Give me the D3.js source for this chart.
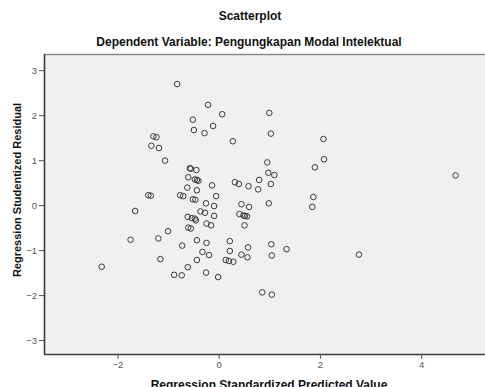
<!DOCTYPE html>
<html>
<head>
<meta charset="utf-8">
<script src="https://cdn.jsdelivr.net/npm/d3@7"></script>
<style>
  html, body { margin: 0; padding: 0; background: #ffffff; }
  svg { display: block; }
</style>
</head>
<body>
<div id="chart"></div>
<script>
// ---- data ----
const title = "Scatterplot";
const subtitle = "Dependent Variable: Pengungkapan Modal Intelektual";
const xLabel = "Regression Standardized Predicted Value";
const yLabel = "Regression Studentized Residual";
const xTicks = [-2, 0, 2, 4];
const yTicks = [-3, -2, -1, 0, 1, 2, 3];

const predicted = [
  -0.82, -0.51, -0.49, -1.29, -1.23, -1.33, -1.18, -1.06, -0.57, -0.55,
  -0.44, -0.60, -0.47, -0.43, -0.40, -0.62, -0.43, -1.39, -1.34, -0.76,
  -0.70, -0.51, -0.46, -1.65, -0.61, -0.53, -0.47, -0.45, -0.36, -0.21,
   0.07, -0.28, -0.11,  0.28,  1.00,  1.03,  0.96,  0.98,  1.10,  1.03,
   0.80,  0.78,  0.59,  0.32,  0.40, -0.13, -0.05, -0.25, -0.09, -0.27,
  -0.09,  0.45,  0.60,  0.41,  0.49,  0.52,  0.56,  0.99,  1.90,  1.87,
   1.85,  2.07,  2.08,  2.77,  4.68, -1.74, -2.31, -1.19, -1.00, -0.72,
  -1.15, -0.88, -0.73, -0.61, -0.43, -0.43, -0.60, -0.55, -0.24, -0.15,
   0.51, -0.24,  0.22, -0.32, -0.19,  0.22,  0.58,  1.04,  1.34,  1.05,
   0.45,  0.57,  0.14,  0.20,  0.29, -0.25, -0.01,  0.86,  1.05
];
const residual = [
   2.69,  1.90,  1.67,  1.53,  1.51,  1.32,  1.27,  0.99,  0.82,  0.81,
   0.78,  0.62,  0.57,  0.56,  0.54,  0.39,  0.33,  0.22,  0.21,  0.22,
   0.20,  0.13,  0.12, -0.13, -0.26, -0.29, -0.30, -0.34, -0.14,  2.23,
   2.02,  1.60,  1.76,  1.42,  2.05,  1.59,  0.95,  0.72,  0.67,  0.47,
   0.56,  0.35,  0.42,  0.51,  0.47,  0.44,  0.20,  0.04, -0.02, -0.17,
  -0.24,  0.02, -0.04, -0.20, -0.23, -0.24, -0.25,  0.04,  0.84,  0.18,
  -0.04,  1.47,  1.02, -1.10,  0.66, -0.77, -1.37, -0.74, -0.58, -0.90,
  -1.20, -1.55, -1.56, -1.38, -1.22, -0.78, -0.50, -0.52, -0.41, -0.45,
  -0.45, -0.84, -0.80, -1.04, -1.11, -1.02, -0.94, -0.87, -0.98, -1.12,
  -1.10, -1.16, -1.22, -1.24, -1.26, -1.50, -1.60, -1.94, -1.99
];

// ---- layout ----
const W = 485, H = 387;
const plot = { left: 44, top: 54, right: 487, bottom: 354 };

const svg = d3.select("#chart").append("svg")
  .attr("width", W).attr("height", H);

const x = d3.scaleLinear().domain([-3.45, 5.3]).range([plot.left, plot.right]);
const y = d3.scaleLinear().domain([-3.31, 3.36]).range([plot.bottom, plot.top]);

// plot background
svg.append("rect")
  .attr("x", plot.left).attr("y", plot.top)
  .attr("width", plot.right - plot.left).attr("height", plot.bottom - plot.top)
  .attr("fill", "#f0f0f0");

// top border (lighter)
svg.append("line")
  .attr("x1", plot.left).attr("x2", plot.right)
  .attr("y1", plot.top + 0.5).attr("y2", plot.top + 0.5)
  .attr("stroke", "#8a8a8a").attr("stroke-width", 1.5);

// axes
const font = "'Liberation Sans', Arial, sans-serif";
const xAxis = d3.axisBottom(x).tickValues(xTicks).tickSize(5).tickPadding(2)
  .tickFormat(d3.format("d"));
const yAxis = d3.axisLeft(y).tickValues(yTicks).tickSize(5).tickPadding(2)
  .tickFormat(d3.format("d"));

const gx = svg.append("g").attr("transform", `translate(0,${plot.bottom})`).call(xAxis);
const gy = svg.append("g").attr("transform", `translate(${plot.left},0)`).call(yAxis);

[gx, gy].forEach(g => {
  g.select(".domain").attr("stroke", "#3a3a3a").attr("stroke-width", 1.6);
  g.selectAll(".tick line").attr("stroke", "#555").attr("stroke-width", 1);
  g.selectAll(".tick text")
    .attr("font-family", font).attr("font-size", 9.5).attr("fill", "#555");
});
gx.select(".domain").attr("d", `M${plot.left},0.5H${plot.right}`);
gy.select(".domain").attr("d", `M0.5,${plot.top}V${plot.bottom}`);

// points
svg.append("g").selectAll("circle")
  .data(predicted.map((p, i) => [p, residual[i]]))
  .join("circle")
  .attr("cx", d => x(d[0]))
  .attr("cy", d => y(d[1]))
  .attr("r", 2.8)
  .attr("fill", "none")
  .attr("stroke", "#3a3a3a")
  .attr("stroke-width", 1);

// titles
svg.append("text")
  .attr("x", 250).attr("y", 20)
  .attr("text-anchor", "middle")
  .attr("font-family", font).attr("font-weight", "bold").attr("font-size", 12)
  .attr("fill", "#111")
  .text(title);

svg.append("text")
  .attr("x", 249).attr("y", 46)
  .attr("text-anchor", "middle")
  .attr("font-family", font).attr("font-weight", "bold").attr("font-size", 12)
  .attr("fill", "#111")
  .text(subtitle);

// axis labels
svg.append("text")
  .attr("x", 269).attr("y", 389)
  .attr("text-anchor", "middle")
  .attr("font-family", font).attr("font-weight", "bold").attr("font-size", 12)
  .attr("fill", "#111")
  .text(xLabel);

svg.append("text")
  .attr("transform", `translate(21,190) rotate(-90)`)
  .attr("text-anchor", "middle")
  .attr("font-family", font).attr("font-weight", "bold").attr("font-size", 11)
  .attr("fill", "#111")
  .text(yLabel);
</script>
</body>
</html>
